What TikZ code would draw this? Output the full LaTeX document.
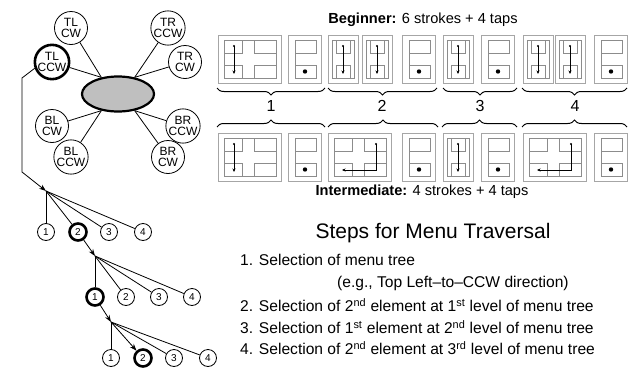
\documentclass[tikz,border=0pt]{standalone}
\usepackage{fontspec}
\setmainfont{Liberation Sans}
\usetikzlibrary{shapes.geometric,decorations.pathreplacing,arrows.meta}

\tikzstyle{mode} = [circle, draw=black, line width=0.8pt, minimum size=33pt, inner sep=0pt, align=center, font=\fontsize{12}{10.5}\selectfont]
\tikzstyle{item} = [circle, draw=black, line width=0.8pt, minimum size=17pt, inner sep=0pt, font=\fontsize{10}{10}\selectfont]
\tikzstyle{picked} = [line width=2.6pt]
\tikzstyle{hub} = [ellipse, draw=black, fill=black!25, line width=2.2pt, minimum width=72pt, minimum height=35pt, inner sep=0pt]
\tikzstyle{spoke} = [line width=0.8pt]
\tikzstyle{arrow} = [line width=0.8pt,->,>={Stealth[length=7pt,width=5pt]}]
\tikzstyle{frame} = [draw=black!35, line width=1pt]
\tikzstyle{cell} = [draw=black!45, line width=0.6pt]
\tikzstyle{stroke} = [line width=0.5pt,->,>={Stealth[length=3.5pt,width=3pt]}]
\tikzstyle{brace} = [decorate, decoration={brace, amplitude=7pt}, line width=1pt]
\tikzstyle{caption} = [font=\fontsize{14.6}{16}\selectfont]
\tikzstyle{entry} = [anchor=west, inner sep=0pt, font=\fontsize{15.6}{18}\selectfont]

% screen thumbnails, #1,#2 = top left corner of the frame
\newcommand{\crossscreen}[2]{%
  \draw[frame] (#1,#2) rectangle ++(63,48);
  \draw[cell] (#1+6,#2+5) rectangle ++(52,38);
  \draw[cell] (#1+24,#2+5) -- ++(0,13) -- ++(-18,0);
  \draw[cell] (#1+36,#2+5) -- ++(0,13) -- ++(22,0);
  \draw[cell] (#1+6,#2+30) -- ++(18,0) -- ++(0,13);
  \draw[cell] (#1+58,#2+30) -- ++(-22,0) -- ++(0,13);
}
\newcommand{\colscreen}[2]{%
  \draw[frame] (#1,#2) rectangle ++(30,48);
  \draw[cell] (#1+4,#2+5) rectangle ++(22,38);
  \draw[cell] (#1+8,#2+5) -- ++(0,13) -- ++(14,0) -- ++(0,-13);
  \draw[cell] (#1+8,#2+43) -- ++(0,-13) -- ++(14,0) -- ++(0,13);
}
\newcommand{\dotscreen}[2]{%
  \draw[frame] (#1,#2) rectangle ++(33,48);
  \draw[cell] (#1+7,#2+5) rectangle ++(21,13);
  \draw[cell] (#1+7,#2+30) rectangle ++(21,13);
  \draw[cell] (#1+7,#2+18) -- ++(0,12);
  \fill (#1+17,#2+36.5) circle (2.2pt);
}
\newcommand{\downstroke}[2]{%
  \fill (#1,#2) circle (1.2pt);
  \draw[stroke] (#1,#2) -- ++(0,28);
}
\newcommand{\bentstroke}[2]{%
  \fill (#1,#2) circle (1.2pt);
  \draw[stroke] (#1,#2) -- ++(0,26) -- ++(-34,0);
}

\begin{document}
\begin{tikzpicture}[x=1pt, y=-1pt]
    \useasboundingbox (0,0) rectangle (632,367);

    % menu trees
    \node (menu) [hub] at (118,94) {};
    \node (tlcw) [mode] at (71,28) {TL\\CW};
    \node (trccw) [mode] at (168,28) {TR\\CCW};
    \node (tlccw) [mode, picked] at (52,62) {TL\\CCW};
    \node (trcw) [mode] at (185,62) {TR\\CW};
    \node (blcw) [mode] at (52,126) {BL\\CW};
    \node (brccw) [mode] at (183,126) {BR\\CCW};
    \node (blccw) [mode] at (71,157) {BL\\CCW};
    \node (brcw) [mode] at (168,157) {BR\\CW};

    \draw[spoke] (tlcw) -- (menu.135);
    \draw[spoke] (tlccw) -- (menu.135);
    \draw[spoke] (trccw) -- (menu.45);
    \draw[spoke] (trcw) -- (menu.45);
    \draw[spoke] (blcw) -- (menu.225);
    \draw[spoke] (blccw) -- (menu.225);
    \draw[spoke] (brccw) -- (menu.315);
    \draw[spoke] (brcw) -- (menu.315);

    % levels
    \coordinate (bend1) at (22,78);
    \coordinate (bend2) at (22,172);
    \coordinate (root1) at (46,191);
    \coordinate (root2) at (95,256);
    \coordinate (root3) at (111,322);

    \node (a1) [item] at (46,232) {1};
    \node (a2) [item, picked] at (78,232) {2};
    \node (a3) [item] at (109,232) {3};
    \node (a4) [item] at (143,232) {4};
    \node (b1) [item, picked] at (95,297) {1};
    \node (b2) [item] at (126,297) {2};
    \node (b3) [item] at (159,297) {3};
    \node (b4) [item] at (192,297) {4};
    \node (c1) [item] at (111,358) {1};
    \node (c2) [item, picked] at (143,358) {2};
    \node (c3) [item] at (174,358) {3};
    \node (c4) [item] at (208,358) {4};

    \draw[arrow] (tlccw.200) -- (bend1) -- (bend2) -- (root1);
    \draw[spoke] (root1) -- (a1);
    \draw[spoke] (root1) -- (a2);
    \draw[spoke] (root1) -- (a3);
    \draw[spoke] (root1) -- (a4);
    \draw[arrow] (a2) -- (root2);
    \draw[spoke] (root2) -- (b1);
    \draw[spoke] (root2) -- (b2);
    \draw[spoke] (root2) -- (b3);
    \draw[spoke] (root2) -- (b4);
    \draw[arrow] (b1) -- (root3);
    \draw[spoke] (root3) -- (c1);
    \draw[arrow] (root3) -- (c2);
    \draw[spoke] (root3) -- (c3);
    \draw[spoke] (root3) -- (c4);

    % beginner row
    \node (beg) [caption] at (423,20) {\textbf{Beginner:} 6 strokes + 4 taps};
    \crossscreen{218}{35} \downstroke{234}{46}
    \dotscreen{288}{35}
    \colscreen{328}{35} \downstroke{343}{46}
    \colscreen{362}{35} \downstroke{377}{46}
    \dotscreen{402}{35}
    \colscreen{443}{35} \downstroke{458}{46}
    \dotscreen{481}{35}
    \colscreen{523}{35} \downstroke{538}{46}
    \colscreen{555}{35} \downstroke{570}{46}
    \dotscreen{594}{35}

    \draw[brace] (325,88) -- (217,88);
    \draw[brace] (437,88) -- (328,88);
    \draw[brace] (517,88) -- (443,88);
    \draw[brace] (627,88) -- (522,88);
    \node (n1) [font=\fontsize{16}{16}\selectfont] at (271,106) {1};
    \node (n2) [font=\fontsize{16}{16}\selectfont] at (382,106) {2};
    \node (n3) [font=\fontsize{16}{16}\selectfont] at (480,106) {3};
    \node (n4) [font=\fontsize{16}{16}\selectfont] at (575,106) {4};
    \draw[brace] (217,127) -- (325,127);
    \draw[brace] (328,127) -- (438,127);
    \draw[brace] (442,127) -- (517,127);
    \draw[brace] (522,127) -- (627,127);

    % intermediate row
    \crossscreen{218}{133} \downstroke{234}{144}
    \dotscreen{288}{133}
    \crossscreen{328}{133} \bentstroke{376}{144}
    \dotscreen{402}{133}
    \colscreen{443}{133} \downstroke{458}{144}
    \dotscreen{481}{133}
    \crossscreen{523}{133} \bentstroke{571}{144}
    \dotscreen{594}{133}
    \node (inter) [caption] at (422,192) {\textbf{Intermediate:} 4 strokes + 4 taps};

    % steps
    \node (title) [font=\fontsize{21}{24}\selectfont] at (433,233) {Steps for Menu Traversal};
    \node (s1) [entry] at (240,260) {1. Selection of menu tree};
    \node (s1b) [entry] at (337,283) {(e.g., Top Left--to--CCW direction)};
    \node (s2) [entry] at (240,305) {2. Selection of 2\textsuperscript{nd} element at 1\textsuperscript{st} level of menu tree};
    \node (s3) [entry] at (240,327) {3. Selection of 1\textsuperscript{st} element at 2\textsuperscript{nd} level of menu tree};
    \node (s4) [entry] at (240,348) {4. Selection of 2\textsuperscript{nd} element at 3\textsuperscript{rd} level of menu tree};
  \end{tikzpicture}
\end{document}
